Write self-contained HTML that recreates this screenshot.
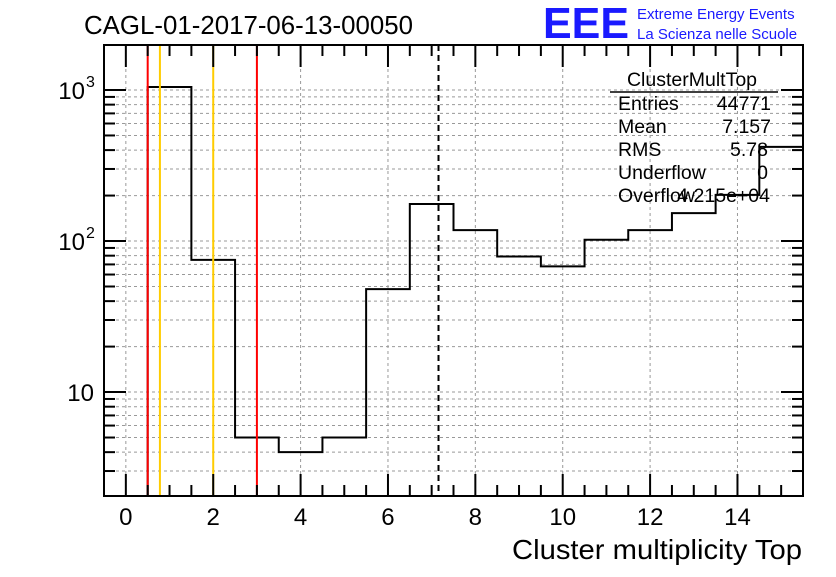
<!DOCTYPE html>
<html><head><meta charset="utf-8"><style>
body{margin:0;background:#fff;}
svg text{font-family:"Liberation Sans",sans-serif;}
</style></head><body>
<svg id="c" width="836" height="572" xmlns="http://www.w3.org/2000/svg">
<rect width="836" height="572" fill="#fff"/>
<g id="grid"></g><g id="marks"></g><g id="axes"></g>
<text x="84" y="34" font-size="26" textLength="329" lengthAdjust="spacingAndGlyphs">CAGL-01-2017-06-13-00050</text>
<g>
<text x="543" y="38" font-size="44" font-weight="bold" fill="#1a1aff" textLength="86" lengthAdjust="spacingAndGlyphs">EEE</text>
<text x="637" y="19" font-size="15" fill="#1a1aff">Extreme Energy Events</text>
<text x="637" y="39" font-size="15" fill="#1a1aff">La Scienza nelle Scuole</text>
</g>
<text x="512" y="559" font-size="28" textLength="290" lengthAdjust="spacingAndGlyphs">Cluster multiplicity Top</text>
<g font-size="19.5">
<text x="692" y="86" text-anchor="middle">ClusterMultTop</text>
<line x1="610" y1="92" x2="778" y2="92" stroke="#000" stroke-width="1.5"/>
<text x="618" y="110">Entries</text><text x="771" y="110" text-anchor="end">44771</text>
<text x="618" y="133">Mean</text><text x="771" y="133" text-anchor="end">7.157</text>
<text x="618" y="156">RMS</text><text x="768" y="156" text-anchor="end">5.78</text>
<text x="618" y="179">Underflow</text><text x="768" y="179" text-anchor="end">0</text>
<text x="618" y="202">Overflow</text><text x="770" y="202" text-anchor="end">4.215e+04</text>
</g>
</svg>
<script>
const binLow=[0.5,1.5,2.5,3.5,4.5,5.5,6.5,7.5,8.5,9.5,10.5,11.5,12.5,13.5,14.5];
const counts=[1047,75,5,4,5,48,176,118,79,68,102,118,153,202,420];
const xTicks=[0,2,4,6,8,10,12,14];
const redLines=[0.5,3];
const orangeLines=[0.78,2];
const meanValue=7.157;
const L=104,R=803,T=45,B=496,XMIN=-0.5,XMAX=15.5,YMIN=2.05,YMAX=1986;
const X=v=>L+(v-XMIN)/(XMAX-XMIN)*(R-L);
const Y=v=>B-(Math.log10(v)-Math.log10(YMIN))/(Math.log10(YMAX)-Math.log10(YMIN))*(B-T);
const NS="http://www.w3.org/2000/svg";
function mk(p,t,a){const e=document.createElementNS(NS,t);for(const k in a)e.setAttribute(k,a[k]);p.appendChild(e);return e;}
const grid=document.getElementById('grid'),marks=document.getElementById('marks'),axes=document.getElementById('axes');
xTicks.forEach(v=>{const l=mk(grid,'line',{x1:X(v),x2:X(v),y1:T,y2:B,stroke:'#999','stroke-dasharray':'3,3'});

});
for(let d=1;d<=1000;d*=10)for(let m=1;m<=9;m++){const v=d*m;if(v<YMIN||v>YMAX)continue;
const l=mk(grid,'line',{x1:L,x2:R,y1:Y(v),y2:Y(v),stroke:'#999','stroke-dasharray':'3,3'});


const t=mk(axes,'line',{x1:L,x2:L+(m==1?22:11),y1:Y(v),y2:Y(v),stroke:'#000','stroke-width':2});


const t2=mk(axes,'line',{x1:R,x2:R-(m==1?22:11),y1:Y(v),y2:Y(v),stroke:'#000','stroke-width':2});

}
let d=`M${X(binLow[0])},${B}`;
binLow.forEach((b,i)=>{d+=` L${X(b)},${Y(counts[i])} L${Math.min(X(b+1),R)},${Y(counts[i])}`;});
const h=mk(marks,'path',{d:d,fill:'none',stroke:'#000','stroke-width':2});


redLines.forEach(v=>{const l=mk(marks,'line',{x1:X(v),x2:X(v),y1:T,y2:B,stroke:'#f00','stroke-width':2});

});
orangeLines.forEach(v=>{const l=mk(marks,'line',{x1:X(v),x2:X(v),y1:T,y2:B,stroke:'#fc0','stroke-width':2});

});
const ml=mk(marks,'line',{x1:X(meanValue),x2:X(meanValue),y1:T,y2:B,stroke:'#000','stroke-width':2,'stroke-dasharray':'6,4'});


const fr=mk(axes,'rect',{x:L,y:T,width:R-L,height:B-T,fill:'none',stroke:'#000','stroke-width':2});


for(let v=0;v<=15.01;v+=0.5){const maj=Math.abs(v%2)<1e-6;const len=maj?22:11;
const t=mk(axes,'line',{x1:X(v),x2:X(v),y1:B,y2:B-len,stroke:'#000','stroke-width':2});


const t2=mk(axes,'line',{x1:X(v),x2:X(v),y1:T,y2:T+len,stroke:'#000','stroke-width':2});

}
xTicks.forEach(v=>{const t=mk(axes,'text',{x:X(v),y:525,'font-size':24,'text-anchor':'middle'});t.textContent=v;

});
[[10,'10',''],[100,'10','2'],[1000,'10','3']].forEach(([v,b,e])=>{
const t=mk(axes,'text',{x:e?85:94,y:Y(v)+9,'font-size':24,'text-anchor':'end'});t.textContent=b;


if(e){const s=mk(axes,'text',{x:86,y:Y(v)-3,'font-size':16});s.textContent=e;

}});
</script>
</body></html>
